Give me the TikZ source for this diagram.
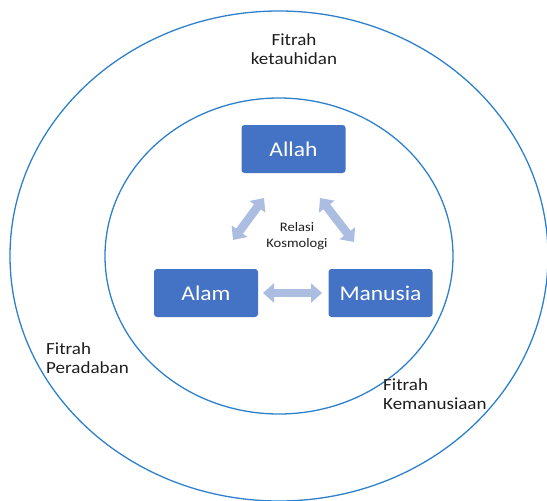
\documentclass[tikz,border=0pt]{standalone}
\usepackage{fontspec}
\setmainfont{Carlito}[FakeStretch=1.12]
\usetikzlibrary{arrows.meta}
\definecolor{ringblue}{RGB}{46,128,204}
\definecolor{boxblue}{RGB}{68,114,196}
\definecolor{arrowblue}{RGB}{172,189,226}
\definecolor{labelgray}{RGB}{30,30,30}
\tikzset{
  ring/.style={draw=ringblue, line width=1.3pt},
  concept/.style={rectangle, rounded corners=3pt, fill=boxblue, text=white,
    minimum width=104pt, minimum height=48pt, inner sep=0pt,
    font=\fontsize{21}{24}\selectfont},
  label/.style={text=labelgray, inner sep=0pt, font=\fontsize{17}{19.5}\selectfont},
  smalllabel/.style={text=labelgray, inner sep=0pt, align=center, font=\fontsize{13}{16.5}\selectfont},
  blockarrow/.style={draw=arrowblue, line width=8.5pt,
    {Triangle[width=19pt,length=11pt]}-{Triangle[width=19pt,length=11pt]}},
}
\begin{document}
\begin{tikzpicture}[x=1pt,y=-1pt]
\useasboundingbox (0,0) rectangle (547,501);
\draw[ring] (279,256) ellipse [x radius=269, y radius=245];
\draw[ring] (279,256) ellipse [x radius=174, y radius=158];

\node[concept] (allah) at (293.5,149) {Allah};
\node[concept] (alam) at (206,293) {Alam};
\node[concept] (manusia) at (380.5,293) {Manusia};

\coordinate (l1) at (233,240);
\coordinate (l2) at (264,198);
\coordinate (r1) at (320,198);
\coordinate (r2) at (354,242);
\coordinate (h1) at (263,293);
\coordinate (h2) at (322,293);
\draw[blockarrow] (l1) -- (l2);
\draw[blockarrow] (r1) -- (r2);
\draw[blockarrow] (h1) -- (h2);

\node[smalllabel] (relasi) at (297,236) {Relasi\\Kosmologi};
\node[label, align=center] (tauhid) at (294,49) {Fitrah\\ketauhidan};
\node[label, align=left, anchor=west] (adab) at (46,358) {Fitrah\\Peradaban};
\node[label, align=left, anchor=west] (manus) at (383,394) {Fitrah\\Kemanusiaan};
\end{tikzpicture}
\end{document}
